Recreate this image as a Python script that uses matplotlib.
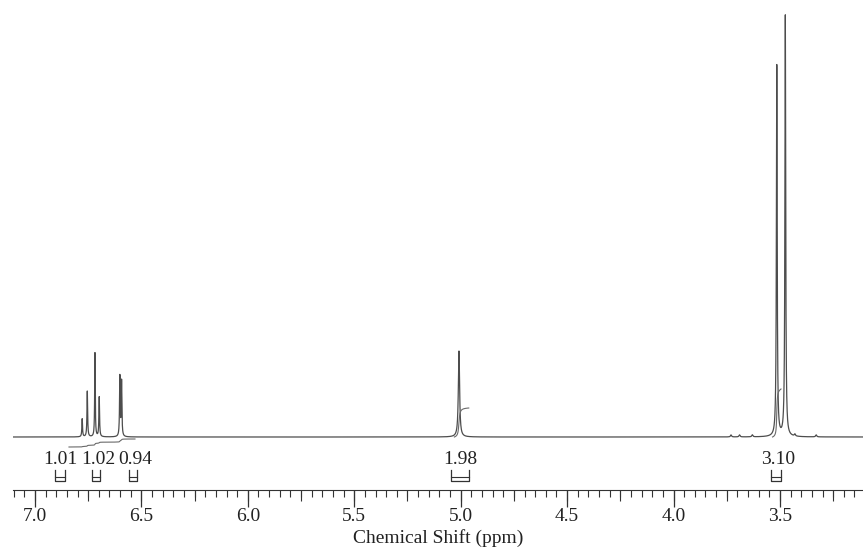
import numpy as np
import matplotlib
matplotlib.use("Agg")
import matplotlib.pyplot as plt
from matplotlib.ticker import MultipleLocator, NullFormatter

# peak list (ppm, height in px above baseline, half width ppm)
peak_ppm = [6.778, 6.754, 6.718, 6.698, 6.601, 6.593, 5.008, 3.515, 3.475,
            3.73, 3.69, 3.63, 3.43, 3.33]
peak_height = [18, 46, 84, 40, 60, 55, 86, 372, 422,
               2, 2, 2, 2, 2]
peak_hwhm = [0.0018, 0.0018, 0.0016, 0.0018, 0.0018, 0.0018, 0.0035, 0.0022, 0.0022,
             0.003, 0.003, 0.003, 0.003, 0.003]

# integration labels and their bracket ranges (ppm)
integ_labels = ["1.01", "1.02", "0.94", "1.98", "3.10"]
integ_label_ppm = [6.88, 6.70, 6.53, 5.00, 3.51]
integ_left = [6.906, 6.732, 6.559, 5.047, 3.540]
integ_right = [6.859, 6.695, 6.521, 4.962, 3.493]

# integral trace regions (ppm start, ppm end, rise in px, offset in px)
trace_start = [6.84, 5.03, 3.535]
trace_end = [6.53, 4.962, 3.495]
trace_rise = [8, 29, 48]
trace_offset = [-10, 0, 0]

xlo, xhi = 7.103, 3.110

ppm = np.linspace(7.12, 3.10, 12000)
spec = np.zeros_like(ppm)
for p, h, w in zip(peak_ppm, peak_height, peak_hwhm):
    spec += h / (1 + ((ppm - p) / w) ** 2)

plt.rcParams["font.family"] = ["Liberation Serif", "DejaVu Serif"]

fig = plt.figure(figsize=(8.63, 5.51), dpi=100)
ax = fig.add_axes([13 / 863, 1 - 490 / 551, 850 / 863, 490 / 551])
ax.set_xlim(xlo, xhi)
ax.set_ylim(-53, 437)

ax.plot(ppm, spec, color="#4d4d4d", lw=0.9)

# integral traces
for a, b, r, o in zip(trace_start, trace_end, trace_rise, trace_offset):
    m = (ppm <= a) & (ppm >= b)
    seg = np.cumsum(spec[m])
    seg = seg / seg[-1] * r + o
    ax.plot(ppm[m], seg, color="#6a6a6a", lw=0.8)

# integration values and brackets
for lab, lp, l, r in zip(integ_labels, integ_label_ppm, integ_left, integ_right):
    ax.text(lp, -23, lab, ha="center", va="center", fontsize=14, color="#222222")
    ax.plot([l, l, r, r], [-33, -44, -44, -33], color="#333333", lw=0.9)
    ax.plot([l, r], [-40, -40], color="#333333", lw=0.8)

for s in ["top", "left", "right"]:
    ax.spines[s].set_visible(False)
ax.spines["bottom"].set_color("#333333")
ax.set_yticks([])

ax.xaxis.set_major_locator(MultipleLocator(0.5))
ax.xaxis.set_minor_locator(MultipleLocator(0.05))
ax.xaxis.set_major_formatter(lambda v, pos: f"{v:.1f}")
ax.tick_params(axis="x", which="major", direction="out", length=12, width=0.9,
               color="#333333", labelsize=14, pad=1, labelcolor="#222222")
ax.tick_params(axis="x", which="minor", direction="out", length=5, width=0.8, color="#333333")

# medium ticks every 0.25 ppm
sec = ax.secondary_xaxis("bottom")
sec.xaxis.set_major_locator(MultipleLocator(0.25))
sec.xaxis.set_major_formatter(NullFormatter())
sec.tick_params(axis="x", direction="out", length=8, width=0.8, color="#333333")
sec.spines["bottom"].set_visible(False)

ax.set_xlabel("Chemical Shift (ppm)", fontsize=14, color="#222222", labelpad=3)

fig.savefig("out.png", dpi=100)
